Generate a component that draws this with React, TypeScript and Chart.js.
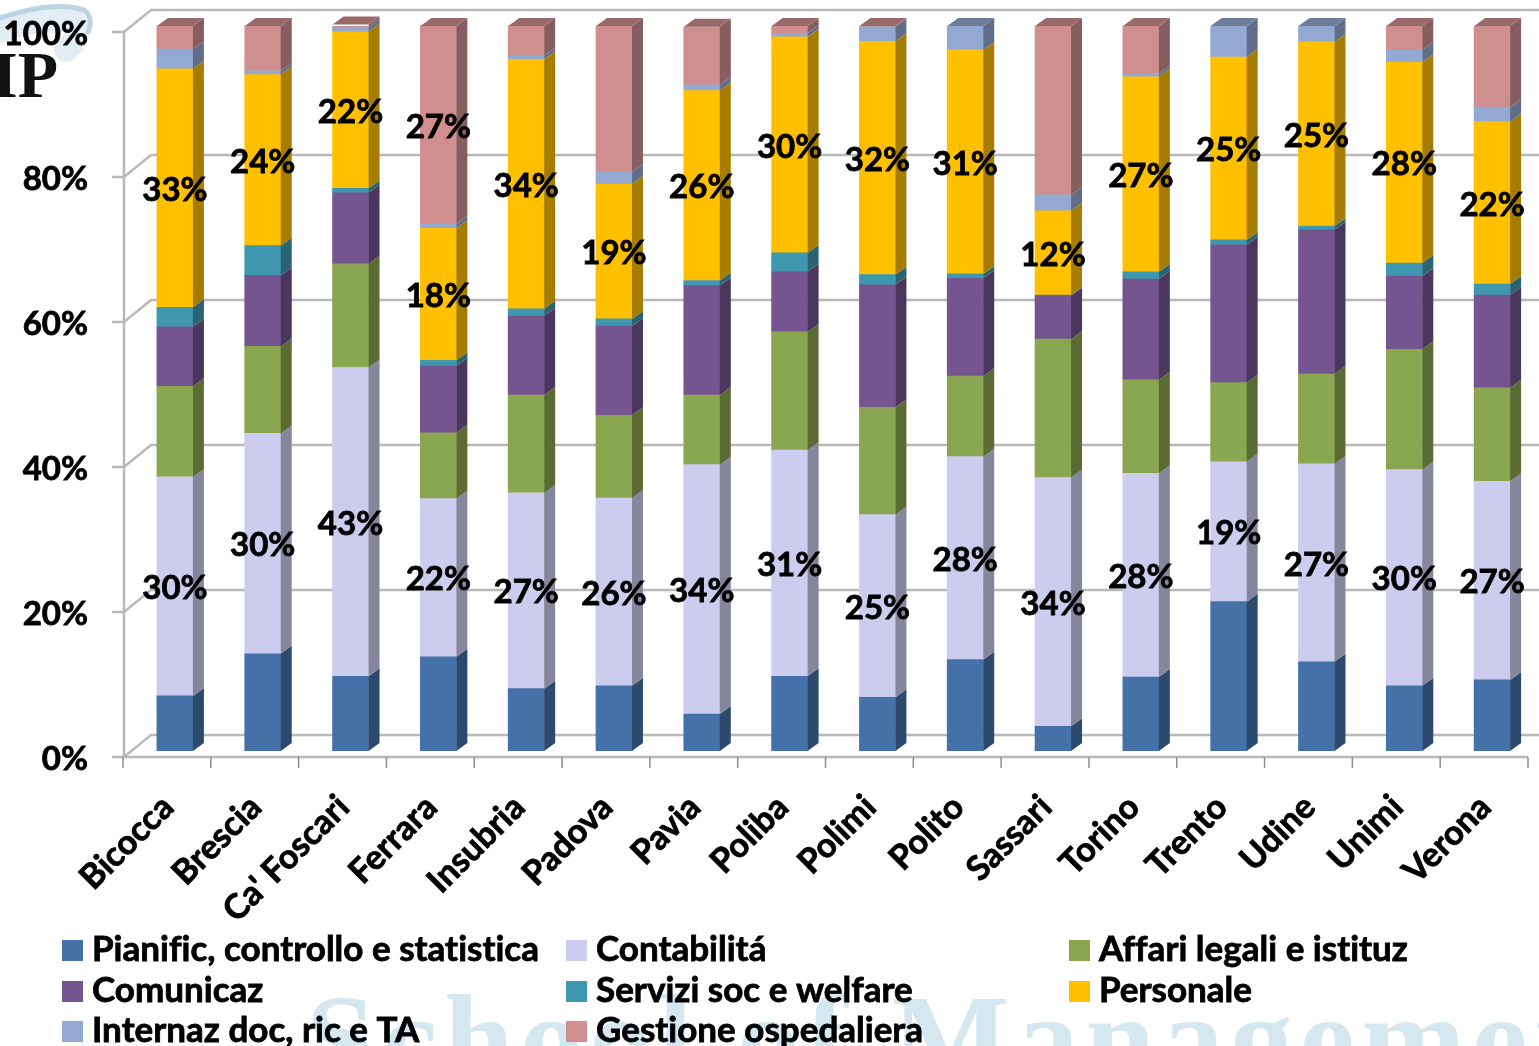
import React, { useEffect, useRef } from "react";
import { Chart, registerables } from "chart.js";

Chart.register(...registerables);

const categories = ["Bicocca", "Brescia", "Ca' Foscari", "Ferrara", "Insubria", "Padova", "Pavia", "Poliba", "Polimi", "Polito", "Sassari", "Torino", "Trento", "Udine", "Unimi", "Verona"];
const pianific = [7.6, 13.4, 10.3, 13, 8.6, 9, 5.1, 10.3, 7.4, 12.6, 3.4, 10.2, 20.6, 12.3, 9, 9.8];
const contabilita = [30.2, 30.4, 42.6, 21.8, 27, 25.9, 34.4, 31.2, 25.2, 28, 34.3, 28.1, 19.3, 27.3, 29.8, 27.4];
const affari = [12.5, 12, 14.3, 9.1, 13.5, 11.4, 9.6, 16.3, 14.8, 11.1, 19.1, 12.9, 10.9, 12.4, 16.6, 12.9];
const comunicaz = [8.2, 9.8, 9.8, 9.2, 10.9, 12.3, 15.1, 8.3, 16.9, 13.5, 6, 13.9, 19, 19.9, 10.1, 12.8];
const servizi = [2.7, 4.1, 0.6, 0.8, 1, 1, 0.7, 2.6, 1.4, 0.6, 0.1, 1, 0.7, 0.5, 1.8, 1.5];
const personale = [32.9, 23.6, 21.6, 18.2, 34.4, 18.6, 26.2, 29.8, 32.2, 30.9, 11.6, 26.9, 25.2, 25.4, 27.7, 22.4];
const internaz = [2.7, 0.5, 0.6, 0.6, 0.5, 1.7, 0.8, 0.5, 2, 3.3, 2.2, 0.4, 4.3, 2.2, 1.7, 2];
const gestione = [3.2, 6.2, 0.4, 27.3, 4.1, 20.1, 8, 1, 0.1, 0, 23.3, 6.6, 0, 0, 3.3, 11.2];
const seriesNames = ["Pianific, controllo e statistica", "Contabilitá", "Affari legali e istituz", "Comunicaz", "Servizi soc e welfare", "Personale", "Internaz doc, ric e TA", "Gestione ospedaliera"];
const seriesColors = ["#4472A8", "#CCCCEE", "#8AA650", "#74558F", "#4098B0", "#FFC000", "#93A9D2", "#D08F8F"];
const seriesValues = [pianific, contabilita, affari, comunicaz, servizi, personale, internaz, gestione];
const labelledSeries = [1, 5];
const labelledGestione = ["Ferrara"];

const FONT = "Lato, Calibri, sans-serif";
const DX = 11;
const DY = 8;

function shade(hex: string, k: number) {
  const n = parseInt(hex.slice(1), 16);
  const r = Math.round(((n >> 16) & 255) * k);
  const g = Math.round(((n >> 8) & 255) * k);
  const b = Math.round((n & 255) * k);
  return `rgb(${r},${g},${b})`;
}

function poly(ctx: CanvasRenderingContext2D, pts: number[][], fill: string) {
  ctx.fillStyle = fill;
  ctx.beginPath();
  pts.forEach((p, i) => (i ? ctx.lineTo(p[0], p[1]) : ctx.moveTo(p[0], p[1])));
  ctx.closePath();
  ctx.fill();
}

const backdrop = {
  id: "backdrop",
  beforeDraw(chart: any) {
    const { ctx } = chart;
    ctx.save();
    // faint watermark
    ctx.fillStyle = "#d6e8ef";
    ctx.font = "bold 125px 'Liberation Serif', serif";
    ctx.textBaseline = "alphabetic";
    ctx.textAlign = "left";
    (ctx as any).letterSpacing = "6.5px";
    ctx.fillText("School of Management", 306, 1081);
    (ctx as any).letterSpacing = "0px";
    // logo
    ctx.lineCap = "round";
    ctx.strokeStyle = "#e2edf4";
    ctx.lineWidth = 24;
    ctx.beginPath();
    ctx.moveTo(-4, 32);
    ctx.quadraticCurveTo(45, 14, 74, 22);
    ctx.quadraticCurveTo(84, 34, 66, 50);
    ctx.stroke();
    ctx.strokeStyle = "#bcd4e2";
    ctx.lineWidth = 5;
    ctx.beginPath();
    ctx.moveTo(0, 18);
    ctx.quadraticCurveTo(55, 0, 84, 10);
    ctx.quadraticCurveTo(94, 18, 88, 32);
    ctx.stroke();
    ctx.fillStyle = "#111";
    ctx.font = "bold 66px 'Liberation Serif', serif";
    ctx.fillText("IP", -8, 97);
    ctx.restore();
  },
};

const walls = {
  id: "walls",
  beforeDatasetsDraw(chart: any) {
    const { ctx, scales } = chart;
    const y = scales.y;
    const x = scales.x;
    const left = 124;
    const wallLeft = 151;
    const right = x.right - 8;
    ctx.save();
    ctx.strokeStyle = "#b9b9b9";
    ctx.lineWidth = 2.5;
    [0, 20, 40, 60, 80, 100].forEach((v) => {
      const p = y.getPixelForValue(v);
      ctx.beginPath();
      ctx.moveTo(left, p + 6);
      ctx.lineTo(wallLeft, p - 16);
      ctx.lineTo(1539, p - 16);
      ctx.stroke();
      ctx.beginPath();
      ctx.moveTo(112, p + 6);
      ctx.lineTo(left, p + 6);
      ctx.stroke();
    });
    const p0 = y.getPixelForValue(0) + 6;
    const p100 = y.getPixelForValue(100) + 6;
    ctx.beginPath();
    ctx.moveTo(left, p100);
    ctx.lineTo(left, p0);
    ctx.lineTo(right, p0);
    ctx.stroke();
    ctx.strokeStyle = "#8f8f8f";
    ctx.lineWidth = 1.5;
    categories.forEach((_, i) => {
      const tx = x.getPixelForValue(i) - x.width / categories.length / 2 - 8;
      ctx.beginPath();
      ctx.moveTo(tx, p0);
      ctx.lineTo(tx, p0 + 11);
      ctx.stroke();
    });
    const lastX = x.right - 8;
    ctx.beginPath();
    ctx.moveTo(lastX, p0);
    ctx.lineTo(lastX, p0 + 11);
    ctx.stroke();
    ctx.restore();
  },
};

const bars3d = {
  id: "bars3d",
  afterDatasetsDraw(chart: any) {
    const { ctx } = chart;
    ctx.save();
    const count = chart.data.datasets.length;
    categories.forEach((_, j) => {
      let topBar: any = null;
      let topColor = "";
      for (let i = 0; i < count; i++) {
        const el = chart.getDatasetMeta(i).data[j];
        const color = seriesColors[i];
        const r = el.x + el.width / 2;
        poly(ctx, [[r, el.y], [r + DX, el.y - DY], [r + DX, el.base - DY], [r, el.base]], shade(color, 0.65));
        if (seriesValues[i][j] > 0) {
          topBar = el;
          topColor = color;
        }
      }
      if (topBar) {
        const l = topBar.x - topBar.width / 2;
        const r = topBar.x + topBar.width / 2;
        const t = topBar.y;
        poly(ctx, [[l, t], [r, t], [r + DX, t - DY], [l + DX, t - DY]], shade(topColor, 0.74));
      }
    });
    ctx.restore();
  },
};

const valueLabels = {
  id: "valueLabels",
  afterDatasetsDraw(chart: any) {
    const { ctx } = chart;
    ctx.save();
    ctx.fillStyle = "#000";
    ctx.strokeStyle = "#000";
    ctx.lineWidth = 0.8;
    ctx.font = `bold 33px ${FONT}`;
    ctx.textAlign = "center";
    ctx.textBaseline = "middle";
    const put = (i: number, j: number) => {
      const el: any = chart.getDatasetMeta(i).data[j];
      const t = `${Math.round(seriesValues[i][j])}%`;
      const cy = (el.y + el.base) / 2 + 2;
      ctx.fillText(t, el.x, cy);
      ctx.strokeText(t, el.x, cy);
    };
    labelledSeries.forEach((i) => {
      categories.forEach((_, j) => put(i, j));
    });
    labelledGestione.forEach((name) => put(7, categories.indexOf(name)));
    ctx.restore();
  },
};

const gridLegend = {
  id: "gridLegend",
  afterDraw(chart: any) {
    const { ctx } = chart;
    const cols = [62, 566, 1069];
    const rows = [950, 991, 1031];
    ctx.save();
    ctx.font = `bold 35px ${FONT}`;
    (ctx as any).letterSpacing = "0.01px";
    ctx.textBaseline = "middle";
    ctx.textAlign = "left";
    ctx.lineWidth = 0.8;
    ctx.strokeStyle = "#000";
    chart.data.datasets.forEach((d: any, i: number) => {
      const cx = cols[i % 3];
      const cy = rows[Math.floor(i / 3)];
      ctx.fillStyle = d.backgroundColor;
      ctx.fillRect(cx, cy - 10, 21, 21);
      ctx.fillStyle = "#000";
      ctx.fillText(d.label, cx + 30, cy);
      ctx.strokeText(d.label, cx + 30, cy);
    });
    ctx.restore();
  },
};

export default function App() {
  const ref = useRef<HTMLCanvasElement>(null);
  useEffect(() => {
    const chart = new Chart(ref.current as HTMLCanvasElement, {
      type: "bar",
      data: {
        labels: categories,
        datasets: seriesNames.map((label, i) => ({
          label,
          data: seriesValues[i],
          backgroundColor: seriesColors[i],
          stack: "s",
          barThickness: 36,
        })),
      },
      options: {
        responsive: false,
        animation: false,
        layout: { autoPadding: false, padding: { top: 26, right: 3, left: 0, bottom: 0 } },
        plugins: { legend: { display: false }, tooltip: { enabled: false } },
        scales: {
          x: {
            stacked: true,
            afterFit: (s: any) => {
              s.height = 295;
              s.paddingLeft = 0;
              s.paddingRight = 0;
              s.paddingTop = 0;
              s.paddingBottom = 0;
            },
            grid: { display: false, drawTicks: false },
            border: { display: false },
            ticks: {
              autoSkip: false,
              minRotation: 45,
              maxRotation: 45,
              padding: 36,
              labelOffset: -7,
              color: "#000",
              textStrokeColor: "#000",
              textStrokeWidth: 0.8,
              font: { family: FONT, weight: "bold", size: 34 },
            },
          },
          y: {
            stacked: true,
            min: 0,
            max: 100,
            afterFit: (s: any) => {
              s.width = 131;
              s.paddingLeft = 0;
              s.paddingRight = 0;
              s.paddingTop = 0;
              s.paddingBottom = 0;
            },
            grid: { display: false, drawTicks: false },
            border: { display: false },
            ticks: {
              stepSize: 20,
              padding: 43,
              labelOffset: 8,
              color: "#000",
              textStrokeColor: "#000",
              textStrokeWidth: 0.8,
              font: { family: FONT, weight: "bold", size: 33 },
              callback: (v: any) => `${v}%`,
            },
          },
        },
      },
      plugins: [backdrop, walls, bars3d, valueLabels, gridLegend],
    } as any);
    return () => chart.destroy();
  }, []);
  return (
    <div style={{ position: "absolute", left: 0, top: 0, width: 1539, height: 1046, overflow: "hidden", background: "#fff" }}>
      <canvas ref={ref} width={1539} height={1046} style={{ display: "block" }} />
    </div>
  );
}
